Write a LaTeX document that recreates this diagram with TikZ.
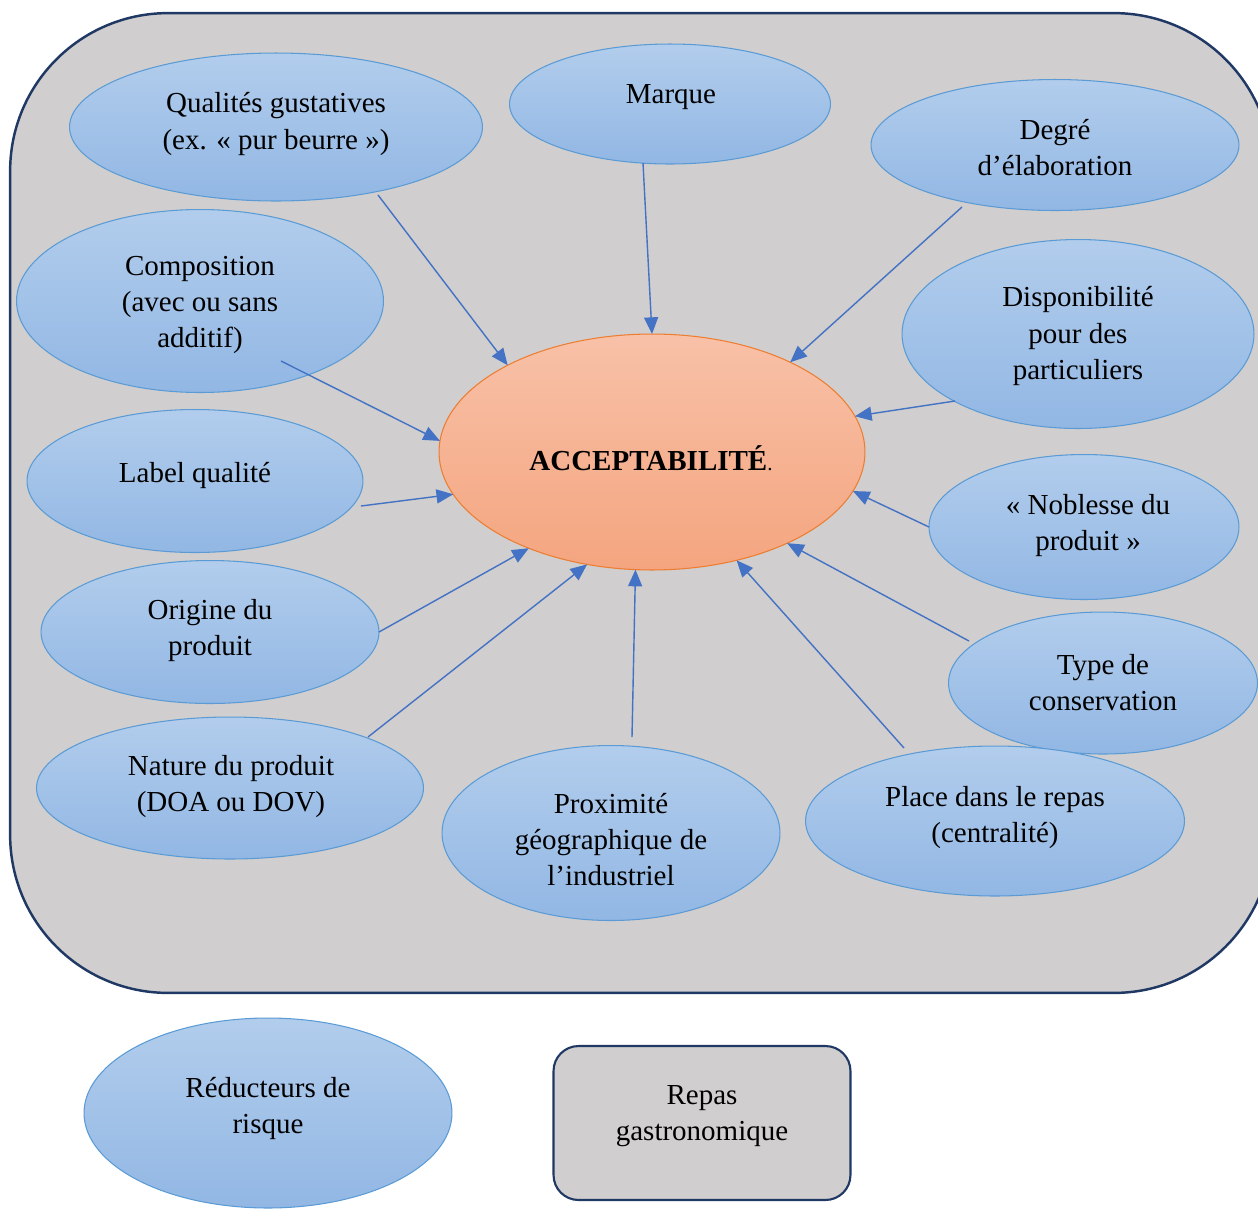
\documentclass[tikz,border=0pt]{standalone}
\usepackage{fontspec}
\setmainfont{Liberation Serif}
\usetikzlibrary{shapes.geometric,arrows.meta}
\definecolor{gris}{RGB}{208,206,206}
\definecolor{marine}{RGB}{31,56,100}
\definecolor{bleuh}{RGB}{178,205,236}
\definecolor{bleub}{RGB}{146,183,228}
\definecolor{bleutrait}{RGB}{91,155,213}
\definecolor{fleche}{RGB}{68,114,196}
\definecolor{saumonh}{RGB}{248,193,168}
\definecolor{saumonb}{RGB}{244,165,127}
\definecolor{orange}{RGB}{237,125,49}

\begin{document}
\begin{tikzpicture}[x=0.02cm, y=-0.02cm,
  font=\fontsize{16.5}{20.5}\selectfont,
  cadre/.style={draw=marine, line width=1.4pt, fill=gris, rounded corners=3.16cm, inner sep=0, outer sep=0},
  bulle/.style={ellipse, draw=bleutrait, line width=0.6pt, top color=bleuh, bottom color=bleub, inner sep=0, outer sep=0},
  txt/.style={align=center, inner sep=0},
  lien/.style={draw=fleche, line width=0.8pt, -{Triangle[length=9.5pt,width=8pt]}}]
\clip (0,0) rectangle (1258,1208);
\node[cadre, minimum width=25.24cm, minimum height=19.6cm] (fond) at (641,503) {};
% ellipses
\node[bulle, minimum width=8.26cm, minimum height=2.96cm] (qual) at (276,127) {};
\node[bulle, minimum width=6.42cm, minimum height=2.40cm] (marq) at (670,104) {};
\node[bulle, minimum width=7.36cm, minimum height=2.62cm] (degr) at (1055,145) {};
\node[bulle, minimum width=7.34cm, minimum height=3.66cm] (comp) at (200,301) {};
\node[bulle, minimum width=7.04cm, minimum height=3.78cm] (disp) at (1078,334) {};
\node[bulle, minimum width=6.72cm, minimum height=2.86cm] (labl) at (195,481) {};
\node[bulle, minimum width=6.20cm, minimum height=2.90cm] (nobl) at (1084,527) {};
\node[bulle, minimum width=6.76cm, minimum height=2.86cm] (orig) at (210,632) {};
\node[bulle, minimum width=6.18cm, minimum height=2.84cm] (type) at (1103,683) {};
\node[bulle, minimum width=7.74cm, minimum height=2.84cm] (natu) at (230,788) {};
\node[bulle, minimum width=6.76cm, minimum height=3.50cm] (prox) at (611,833) {};
\node[bulle, minimum width=7.58cm, minimum height=3.00cm] (plac) at (995,821) {};
\node[ellipse, draw=orange, line width=0.6pt, top color=saumonh, bottom color=saumonb,
  inner sep=0, outer sep=0, minimum width=8.52cm, minimum height=4.72cm] (acc) at (652,452) {};
\node[bulle, minimum width=7.36cm, minimum height=3.80cm] (redu) at (268,1113) {};
\node[cadre, rounded corners=0.5cm, line width=1.2pt, minimum width=5.94cm, minimum height=3.08cm] (repas) at (702,1123) {};
% textes
\node[txt] (qualt) at (276,124) {Qualités gustatives\\(ex. « pur beurre »)};
\node[txt] (marqt) at (671,97) {Marque};
\node[txt] (degrt) at (1055,148) {Degré\\d’élaboration};
\node[txt] (compt) at (200,305) {Composition\\(avec ou sans\\additif)};
\node[txt] (dispt) at (1078,336) {Disponibilité\\pour des\\particuliers};
\node[txt] (lablt) at (195,475) {Label qualité};
\node[txt] (noblt) at (1088,526) {« Noblesse du\\produit »};
\node[txt] (origt) at (210,631) {Origine du\\produit};
\node[txt] (typet) at (1103,683) {Type de\\conservation};
\node[txt] (natut) at (231,787) {Nature du produit\\(DOA ou DOV)};
\node[txt] (proxt) at (611,840) {Proximité\\géographique de\\l’industriel};
\node[txt] (plact) at (995,818) {Place dans le repas\\(centralité)};
\node[txt] (acct) at (651,458) {\textbf{ACCEPTABILITÉ}{\fontsize{12}{12}\selectfont.}};
\node[txt] (redut) at (268,1108) {Réducteurs de\\risque};
\node[txt] (repast) at (702,1116) {Repas\\gastronomique};
% departs des fleches
\coordinate (qualp) at (378,195);
\coordinate (marqp) at (643,163);
\coordinate (degrp) at (962,207);
\coordinate (compp) at (281,361);
\coordinate (dispp) at (955,401);
\coordinate (lablp) at (361,506);
\coordinate (noblp) at (929,527);
\coordinate (origp) at (379,632);
\coordinate (typep) at (969,641);
\coordinate (natup) at (368,737);
\coordinate (proxp) at (632,737);
\coordinate (placp) at (904,748);
\draw[lien] (qualp) -- (acc.149.5);
\draw[lien] (marqp) -- (acc.90.5);
\draw[lien] (degrp) -- (acc.33.2);
\draw[lien] (compp) -- (acc.177.8);
\draw[lien] (dispp) -- (acc.10.8);
\draw[lien] (lablp) -- (acc.192.1);
\draw[lien] (noblp) -- (acc.349.2);
\draw[lien] (origp) -- (acc.218.7);
\draw[lien] (typep) -- (acc.326);
\draw[lien] (natup) -- (acc.240.8);
\draw[lien] (proxp) -- (acc.262.9);
\draw[lien] (placp) -- (acc.308.7);
\end{tikzpicture}
\end{document}
